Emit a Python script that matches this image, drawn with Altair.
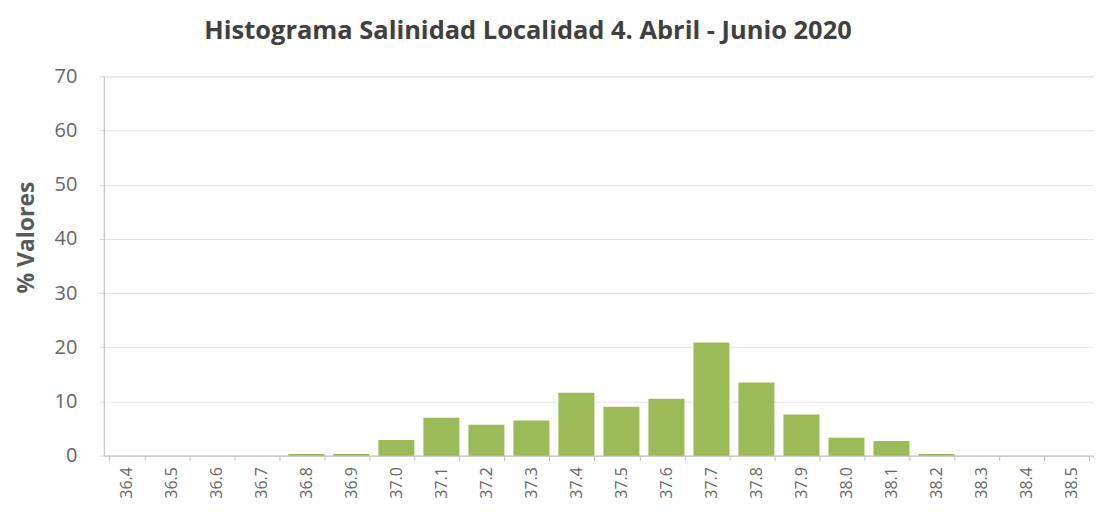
import altair as alt
import pandas as pd

categories = ["36.4", "36.5", "36.6", "36.7", "36.8", "36.9", "37.0", "37.1", "37.2", "37.3",
              "37.4", "37.5", "37.6", "37.7", "37.8", "37.9", "38.0", "38.1", "38.2", "38.3",
              "38.4", "38.5"]
values = [0.0, 0.0, 0.0, 0.0, 0.3, 0.3, 2.9, 7.0, 5.7, 6.5,
          11.6, 9.0, 10.5, 20.9, 13.5, 7.6, 3.3, 2.7, 0.3, 0.0,
          0.0, 0.0]
y_ticks = [0, 10, 20, 30, 40, 50, 60, 70]

df = pd.DataFrame({"cat": categories, "val": values})

chart = alt.Chart(df).mark_bar(color="#9bbb59").encode(
    x=alt.X("cat:N", sort=categories, title=None,
            scale=alt.Scale(paddingInner=0.2, paddingOuter=0.1),
            axis=alt.Axis(labelAngle=270, labelFont="Open Sans", labelFontSize=16,
                          labelColor="#666666", labelPadding=6, labelAlign="right",
                          labelBaseline="middle",
                          tickBand="extent", tickSize=5, tickColor="#bfbfbf",
                          domainColor="#bfbfbf", grid=False)),
    y=alt.Y("val:Q", title="% Valores",
            scale=alt.Scale(domain=[0, 70], nice=False),
            axis=alt.Axis(values=y_ticks, labelFont="Open Sans", labelFontSize=20,
                          labelColor="#666666", labelPadding=22, tickSize=5,
                          tickColor="#d9d9d9", domainColor="#bfbfbf",
                          gridColor="#e3e3e3", titleFont="Open Sans", titleFontSize=23,
                          titleFontWeight="bold", titleColor="#595959",
                          titlePadding=16, titleY=161)),
).properties(
    width=992,
    height=380,
    title=alt.TitleParams("Histograma Salinidad Localidad 4. Abril - Junio 2020",
                          font="Open Sans", fontSize=25.5, fontWeight="bold",
                          color="#404040", anchor="middle", dx=-71, offset=22),
).configure_view(stroke=None).configure(padding={"left": 7, "top": 10, "right": 0, "bottom": 0})

chart.save("out.html", embed_options={"renderer": "svg", "actions": False})
